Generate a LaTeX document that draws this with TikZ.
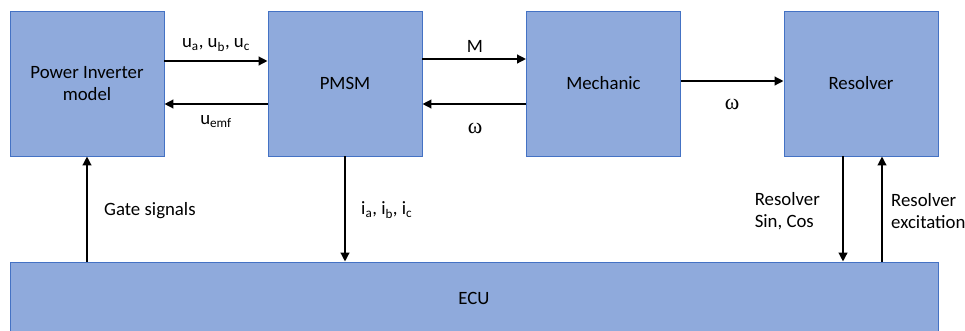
\documentclass[tikz,border=0pt]{standalone}
\usepackage{fontspec}
\setmainfont{Carlito}
\newfontfamily\greekfont{Liberation Serif}
\usetikzlibrary{arrows.meta,positioning,calc}
\definecolor{boxfill}{HTML}{8FAADC}
\definecolor{boxline}{HTML}{4472C4}
\newcommand{\omegalbl}{{\greekfont\fontsize{22}{24}\selectfont ω}}

\begin{document}
\begin{tikzpicture}[
  x=1pt, y=-1pt,
  >={Triangle[length=9pt,width=8.5pt]},
  block/.style={draw=boxline, fill=boxfill, line width=0.8pt, minimum width=154pt, minimum height=145pt, align=center, font=\fontsize{18.8}{22}\selectfont, inner sep=0pt},
  arr/.style={->, line width=2.8pt, color=black},
  lbl/.style={font=\fontsize{18.8}{22}\selectfont, inner sep=0pt},
]
\useasboundingbox (0,0) rectangle (965,330);

\node[block] (inverter) at (87, 83.5) {Power Inverter\\model};
\node[block] (pmsm) at (345, 83.5) {PMSM};
\node[block] (mech) at (603.5, 83.5) {Mechanic};
\node[block] (resolver) at (861, 83.5) {Resolver};
\node[block, minimum width=928pt, minimum height=72pt] (ecu) at (474, 298) {ECU};

% inverter <-> pmsm
\draw[arr] ([yshift=22.5pt]inverter.east) -- ([yshift=22.5pt]pmsm.west);
\draw[arr] ([yshift=-20.5pt]pmsm.west) -- ([yshift=-20.5pt]inverter.east);
\node[lbl] (uabc) at (216, 45) {u\textsubscript{a}, u\textsubscript{b}, u\textsubscript{c}};
\node[lbl] (uemf) at (216, 122) {u\textsubscript{emf}};

% pmsm <-> mechanic
\draw[arr] ([yshift=24.5pt]pmsm.east) -- ([yshift=24.5pt]mech.west);
\draw[arr] ([yshift=-20.5pt]mech.west) -- ([yshift=-20.5pt]pmsm.east);
\node[lbl] (torque) at (475, 46) {M};
\node[lbl] (speed) at (475, 128) {\omegalbl};

% mechanic -> resolver
\draw[arr] ([yshift=2.5pt]mech.east) -- ([yshift=2.5pt]resolver.west);
\node[lbl] (angle) at (732, 104) {\omegalbl};

% ecu links
\draw[arr] (ecu.north -| inverter.south) -- (inverter.south);
\node[lbl, anchor=west] (gate) at (104, 211) {Gate signals};
\draw[arr] (pmsm.south) -- (ecu.north -| pmsm.south);
\node[lbl, anchor=west] (iabc) at (361, 210) {i\textsubscript{a}, i\textsubscript{b}, i\textsubscript{c}};
\coordinate (sinout) at ([xshift=-18pt]resolver.south);
\coordinate (excin) at ([xshift=21pt]resolver.south);
\draw[arr] (sinout) -- (ecu.north -| sinout);
\draw[arr] (ecu.north -| excin) -- (excin);
\node[lbl, anchor=east, align=left] (sincos) at (820, 211) {Resolver\\Sin, Cos};
\node[lbl, anchor=west, align=left] (excit) at (891, 211) {Resolver\\excitation};

\end{tikzpicture}
\end{document}
